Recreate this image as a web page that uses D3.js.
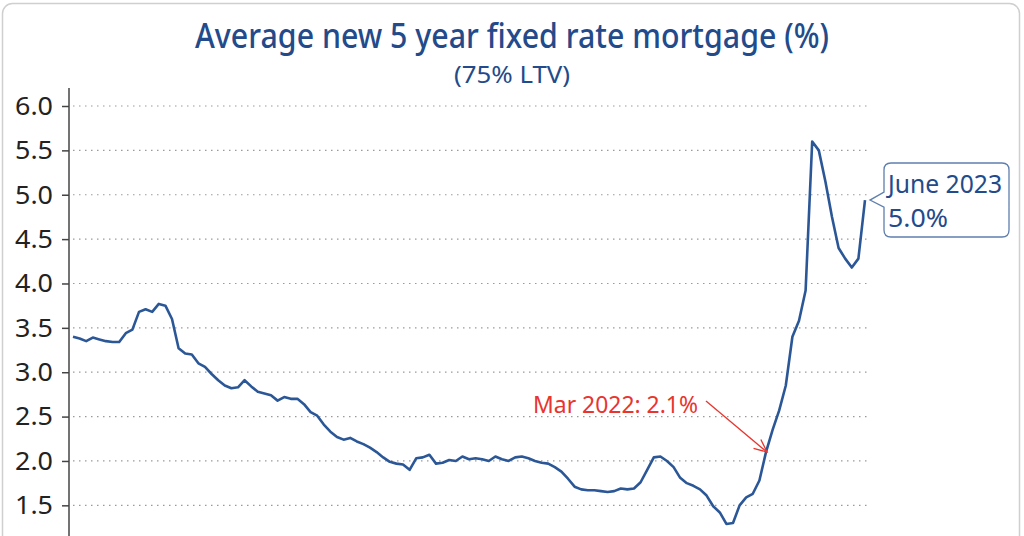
<!DOCTYPE html>
<html>
<head>
<meta charset="utf-8">
<script src="https://cdn.jsdelivr.net/npm/d3@7"></script>
<style>
  html, body { margin: 0; padding: 0; background: #fff; }
  svg { display: block; }
</style>
</head>
<body>
<svg id="chart" width="1024" height="536"></svg>
<script>
// ---- Data (monthly, Jun 2013 – Jun 2023) ----
const startMonth = new Date(2013, 5, 1);
const rates = [
  3.40, 3.38, 3.35, 3.39, 3.37, 3.35, 3.34, 3.34, 3.44, 3.48,
  3.68, 3.71, 3.68, 3.77, 3.75, 3.60, 3.27, 3.21, 3.20, 3.10,
  3.06, 2.98, 2.91, 2.85, 2.82, 2.83, 2.91, 2.84, 2.78, 2.76,
  2.74, 2.68, 2.72, 2.70, 2.70, 2.64, 2.55, 2.51, 2.41, 2.33,
  2.27, 2.24, 2.26, 2.22, 2.19, 2.15, 2.10, 2.04, 1.99, 1.97,
  1.96, 1.90, 2.03, 2.04, 2.07, 1.97, 1.98, 2.01, 2.00, 2.05,
  2.02, 2.03, 2.02, 2.00, 2.05, 2.02, 2.00, 2.04, 2.05, 2.03,
  2.00, 1.98, 1.97, 1.93, 1.88, 1.80, 1.71, 1.68, 1.67, 1.67,
  1.66, 1.65, 1.66, 1.69, 1.68, 1.69, 1.76, 1.90, 2.04, 2.05,
  2.00, 1.93, 1.81, 1.75, 1.72, 1.68, 1.61, 1.49, 1.42, 1.29,
  1.30, 1.50, 1.59, 1.63, 1.78, 2.10, 2.35, 2.57, 2.85, 3.40,
  3.58, 3.92, 5.60, 5.50, 5.15, 4.75, 4.40, 4.28, 4.18, 4.28,
  4.94
];
const months = rates.map((_, i) => d3.timeMonth.offset(startMonth, i));
const yTicks = [1.5, 2.0, 2.5, 3.0, 3.5, 4.0, 4.5, 5.0, 5.5, 6.0];
const titleText = "Average new 5 year fixed rate mortgage (%)";
const subtitleText = "(75% LTV)";
const noteMar = { label: "Mar 2022: 2.1%", index: 105 };
const noteLast = { line1: "June 2023", line2: "5.0%" };

// ---- Layout ----
const svg = d3.select("#chart");
const blue = "#234a8a";
const lineBlue = "#2b5797";
const red = "#e8352e";
const font = "'Noto Sans', 'Open Sans', sans-serif";

// frame
svg.append("rect")
  .attr("x", 2.5).attr("y", 3.5)
  .attr("width", 1017).attr("height", 560)
  .attr("rx", 10).attr("ry", 10)
  .attr("fill", "#fff").attr("stroke", "#cfcfcf").attr("stroke-width", 1.5);

// title
svg.append("text")
  .attr("x", 512).attr("y", 48)
  .attr("text-anchor", "middle")
  .attr("font-family", font).attr("font-size", 34).attr("font-weight", 500)
  .attr("fill", blue)
  .attr("textLength", 634).attr("lengthAdjust", "spacingAndGlyphs")
  .text(titleText);
svg.append("text")
  .attr("x", 512).attr("y", 83)
  .attr("text-anchor", "middle")
  .attr("font-family", font).attr("font-size", 23)
  .attr("fill", blue)
  .attr("textLength", 116).attr("lengthAdjust", "spacingAndGlyphs")
  .text(subtitleText);

// scales
const x = d3.scaleLinear()
  .domain([0, months.length - 1])
  .range([73, 865]);
const y = d3.scaleLinear()
  .domain([1.0, 6.0])
  .range([549.7, 106]);

// gridlines
svg.append("g")
  .selectAll("line")
  .data(yTicks)
  .join("line")
  .attr("x1", 73).attr("x2", 867)
  .attr("y1", d => y(d)).attr("y2", d => y(d))
  .attr("stroke", "#9a9a9a").attr("stroke-width", 1.2)
  .attr("stroke-dasharray", "1.5,4.5");

// y axis
const yAxis = d3.axisLeft(y)
  .tickValues(yTicks)
  .tickFormat(d3.format(".1f"))
  .tickSize(7)
  .tickSizeOuter(0)
  .tickPadding(9);
const gy = svg.append("g")
  .attr("transform", "translate(69,0)")
  .call(yAxis);
gy.select(".domain").remove();
gy.selectAll(".tick line").attr("stroke", "#444").attr("stroke-width", 1.5);
gy.selectAll(".tick text")
  .attr("font-family", font).attr("font-size", 26).attr("fill", "#222")
  .attr("textLength", 38).attr("lengthAdjust", "spacingAndGlyphs");
svg.append("line")
  .attr("x1", 69).attr("x2", 69)
  .attr("y1", 88).attr("y2", 540)
  .attr("stroke", "#444").attr("stroke-width", 1.5);

// line
const line = d3.line()
  .x((d, i) => x(i))
  .y(d => y(d));
svg.append("path")
  .datum(rates)
  .attr("d", line)
  .attr("fill", "none")
  .attr("stroke", lineBlue)
  .attr("stroke-width", 2.6)
  .attr("stroke-linejoin", "round");

// Mar 2022 annotation
const tipX = x(noteMar.index) + 1, tipY = y(rates[noteMar.index]);
svg.append("text")
  .attr("x", 533).attr("y", 413)
  .attr("font-family", font).attr("font-size", 23)
  .attr("fill", red)
  .attr("textLength", 165).attr("lengthAdjust", "spacingAndGlyphs")
  .text(noteMar.label);
const ax0 = 706, ay0 = 401;
svg.append("line")
  .attr("x1", ax0).attr("y1", ay0).attr("x2", tipX).attr("y2", tipY)
  .attr("stroke", red).attr("stroke-width", 1.3);
const ang = Math.atan2(tipY - ay0, tipX - ax0);
const hl = 14, ha = 0.42;
svg.append("path")
  .attr("d", `M${tipX - hl * Math.cos(ang - ha)},${tipY - hl * Math.sin(ang - ha)} L${tipX},${tipY} L${tipX - hl * Math.cos(ang + ha)},${tipY - hl * Math.sin(ang + ha)}`)
  .attr("fill", "none").attr("stroke", red).attr("stroke-width", 1.3);

// June 2023 callout
const lastX = x(rates.length - 1), lastY = y(rates[rates.length - 1]);
const bx = 884, by = 163, bw = 125, bh = 74, r = 7;
const px = lastX + 5, py = lastY;
const calloutPath = `M${bx + r},${by} H${bx + bw - r} Q${bx + bw},${by} ${bx + bw},${by + r}
  V${by + bh - r} Q${bx + bw},${by + bh} ${bx + bw - r},${by + bh}
  H${bx + r} Q${bx},${by + bh} ${bx},${by + bh - r}
  V${py + 7} L${px},${py} L${bx},${py - 8}
  V${by + r} Q${bx},${by} ${bx + r},${by} Z`;
svg.append("path")
  .attr("d", calloutPath)
  .attr("fill", "#fff").attr("stroke", "#5f7fae").attr("stroke-width", 1.3);
svg.append("text")
  .attr("x", 888).attr("y", 193)
  .attr("font-family", font).attr("font-size", 25).attr("fill", blue)
  .attr("textLength", 114).attr("lengthAdjust", "spacingAndGlyphs")
  .text(noteLast.line1);
svg.append("text")
  .attr("x", 888).attr("y", 227)
  .attr("font-family", font).attr("font-size", 25).attr("fill", blue)
  .attr("textLength", 60).attr("lengthAdjust", "spacingAndGlyphs")
  .text(noteLast.line2);
</script>
</body>
</html>
